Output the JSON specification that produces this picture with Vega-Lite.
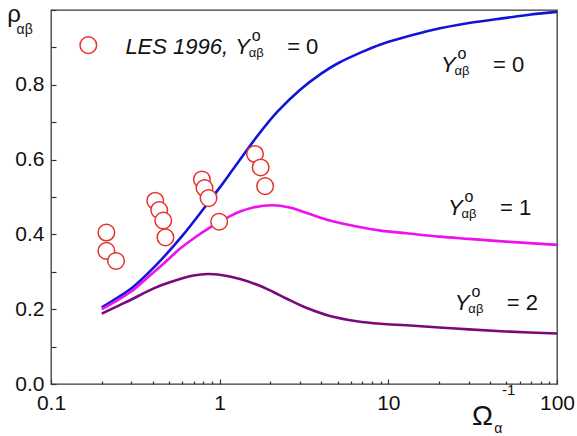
{
  "$schema": "https://vega.github.io/schema/vega-lite/v6.json",
  "width": 506,
  "height": 374,
  "autosize": "none",
  "padding": {"left": 51, "top": 10, "right": 20, "bottom": 52},
  "background": "white",
  "config": {
    "view": {"stroke": "#3a3a3a", "strokeWidth": 1.3},
    "font": "Liberation Sans",
    "text": {"font": "Liberation Sans", "color": "#111111"}
  },
  "datasets": {
    "curves": [
      {"x": 0.2, "y": 0.205, "c": "Y0"}, {"x": 0.25, "y": 0.232, "c": "Y0"}, {"x": 0.3, "y": 0.256, "c": "Y0"},
      {"x": 0.42, "y": 0.318, "c": "Y0"}, {"x": 0.6, "y": 0.396, "c": "Y0"}, {"x": 0.82, "y": 0.474, "c": "Y0"},
      {"x": 1.0, "y": 0.525, "c": "Y0"}, {"x": 1.2, "y": 0.574, "c": "Y0"}, {"x": 1.66, "y": 0.661, "c": "Y0"},
      {"x": 2.2, "y": 0.728, "c": "Y0"}, {"x": 3.0, "y": 0.787, "c": "Y0"}, {"x": 4.0, "y": 0.83, "c": "Y0"},
      {"x": 5.0, "y": 0.857, "c": "Y0"}, {"x": 7.0, "y": 0.888, "c": "Y0"}, {"x": 9.0, "y": 0.908, "c": "Y0"},
      {"x": 12.0, "y": 0.925, "c": "Y0"}, {"x": 18.5, "y": 0.947, "c": "Y0"}, {"x": 30.0, "y": 0.965, "c": "Y0"},
      {"x": 50.0, "y": 0.979, "c": "Y0"}, {"x": 70.0, "y": 0.988, "c": "Y0"}, {"x": 100.0, "y": 0.995, "c": "Y0"},

      {"x": 0.2, "y": 0.2, "c": "Y1"}, {"x": 0.25, "y": 0.225, "c": "Y1"}, {"x": 0.3, "y": 0.248, "c": "Y1"},
      {"x": 0.37, "y": 0.283, "c": "Y1"}, {"x": 0.45, "y": 0.316, "c": "Y1"}, {"x": 0.583, "y": 0.362, "c": "Y1"},
      {"x": 0.7, "y": 0.389, "c": "Y1"}, {"x": 0.859, "y": 0.416, "c": "Y1"}, {"x": 1.0, "y": 0.434, "c": "Y1"},
      {"x": 1.154, "y": 0.449, "c": "Y1"}, {"x": 1.32, "y": 0.461, "c": "Y1"}, {"x": 1.58, "y": 0.472, "c": "Y1"},
      {"x": 2.04, "y": 0.478, "c": "Y1"}, {"x": 2.6, "y": 0.472, "c": "Y1"}, {"x": 3.29, "y": 0.457, "c": "Y1"},
      {"x": 4.5, "y": 0.437, "c": "Y1"}, {"x": 6.5, "y": 0.421, "c": "Y1"}, {"x": 9.0, "y": 0.41, "c": "Y1"},
      {"x": 12.8, "y": 0.403, "c": "Y1"}, {"x": 20.0, "y": 0.394, "c": "Y1"}, {"x": 30.0, "y": 0.388, "c": "Y1"},
      {"x": 52.6, "y": 0.38, "c": "Y1"}, {"x": 100.0, "y": 0.372, "c": "Y1"},

      {"x": 0.2, "y": 0.188, "c": "Y2"}, {"x": 0.25, "y": 0.209, "c": "Y2"}, {"x": 0.3, "y": 0.226, "c": "Y2"},
      {"x": 0.37, "y": 0.247, "c": "Y2"}, {"x": 0.45, "y": 0.264, "c": "Y2"}, {"x": 0.583, "y": 0.281, "c": "Y2"},
      {"x": 0.7, "y": 0.29, "c": "Y2"}, {"x": 0.85, "y": 0.294, "c": "Y2"}, {"x": 1.0, "y": 0.292, "c": "Y2"},
      {"x": 1.32, "y": 0.281, "c": "Y2"}, {"x": 1.7, "y": 0.264, "c": "Y2"}, {"x": 2.08, "y": 0.246, "c": "Y2"},
      {"x": 2.5, "y": 0.228, "c": "Y2"}, {"x": 3.29, "y": 0.203, "c": "Y2"}, {"x": 4.5, "y": 0.182, "c": "Y2"},
      {"x": 6.5, "y": 0.168, "c": "Y2"}, {"x": 9.0, "y": 0.161, "c": "Y2"}, {"x": 12.8, "y": 0.157, "c": "Y2"},
      {"x": 20.0, "y": 0.151, "c": "Y2"}, {"x": 30.0, "y": 0.146, "c": "Y2"}, {"x": 52.6, "y": 0.14, "c": "Y2"},
      {"x": 100.0, "y": 0.135, "c": "Y2"}
    ],
    "les": [
      {"x": 0.213, "y": 0.405}, {"x": 0.213, "y": 0.356}, {"x": 0.243, "y": 0.329},
      {"x": 0.415, "y": 0.49}, {"x": 0.438, "y": 0.465}, {"x": 0.463, "y": 0.437}, {"x": 0.477, "y": 0.392},
      {"x": 0.785, "y": 0.547}, {"x": 0.813, "y": 0.524}, {"x": 0.859, "y": 0.497}, {"x": 0.993, "y": 0.434},
      {"x": 1.62, "y": 0.615}, {"x": 1.75, "y": 0.579}, {"x": 1.86, "y": 0.529}
    ],
    "key": [{"x": 0.1664, "y": 0.906}],
    "keytext": [{"x": 1.235, "y": 0.882, "t": "LES 1996,"}],
    "ylab": [
      {"x": 20.52, "y": 0.834, "eq": "= 0"},
      {"x": 22.58, "y": 0.452, "eq": "= 1"},
      {"x": 24.8, "y": 0.198, "eq": "= 2"},
      {"x": 1.235, "y": 0.882, "eq": "= 0"}
    ],
    "bigt": [{"x": 0.0551, "y": 0.968, "t": "ρ"}],
    "omega": [{"x": 31.3, "y": -0.11, "t": "Ω"}],
    "subs": [{"x": 0.0625, "y": 0.936, "t": "αβ"}, {"x": 42.4, "y": -0.13, "t": "α"}],
    "sups": [{"x": 47.2, "y": -0.03, "t": "-1"}]
  },
  "encoding": {
    "x": {
      "field": "x", "type": "quantitative",
      "scale": {"type": "log", "domain": [0.1, 100], "nice": false},
      "axis": {
        "title": null, "grid": false, "domain": false,
        "values": [0.1, 0.2, 0.3, 0.4, 0.5, 0.6, 0.7, 0.8, 0.9, 1, 2, 3, 4, 5, 6, 7, 8, 9, 10, 20, 30, 40, 50, 60, 70, 80, 90, 100],
        "tickColor": "#333333", "tickWidth": 1.2,
        "tickSize": {"condition": {"test": "indexof([0.1, 1, 10, 100], datum.value) >= 0", "value": -5}, "value": -3},
        "labelExpr": "indexof([0.1, 1, 10, 100], datum.value) >= 0 ? datum.value + '' : ''",
        "labelPadding": 13, "labelFontSize": 21, "labelColor": "#111111",
        "labelFlush": false, "labelOverlap": false, "labelFont": "Liberation Sans"
      }
    },
    "y": {
      "field": "y", "type": "quantitative",
      "scale": {"domain": [0, 1], "nice": false},
      "axis": {
        "title": null, "grid": false, "domain": false,
        "values": [0, 0.1, 0.2, 0.3, 0.4, 0.5, 0.6, 0.7, 0.8, 0.9, 1.0],
        "tickColor": "#333333", "tickWidth": 1.2, "tickSize": -5,
        "labelExpr": "round(datum.value * 10) % 2 == 0 && datum.value < 0.95 ? format(datum.value, '.1f') : ''",
        "labelPadding": 12, "labelFontSize": 21, "labelColor": "#111111",
        "labelFlush": false, "labelOverlap": false, "labelFont": "Liberation Sans"
      }
    }
  },
  "layer": [
    {
      "data": {"name": "curves"},
      "mark": {"type": "line", "interpolate": "catmull-rom", "strokeWidth": 2.6},
      "encoding": {
        "color": {"field": "c", "type": "nominal", "legend": null,
          "scale": {"domain": ["Y0", "Y1", "Y2"], "range": ["#1414d8", "#ee10ee", "#7a0a7a"]}}
      }
    },
    {
      "data": {"name": "les"},
      "mark": {"type": "point", "shape": "circle", "size": 275, "filled": true, "fill": "white", "stroke": "#e5332a", "strokeWidth": 1.5, "opacity": 1}
    },
    {
      "data": {"name": "key"},
      "mark": {"type": "point", "shape": "circle", "size": 275, "filled": true, "fill": "white", "stroke": "#e5332a", "strokeWidth": 1.5, "opacity": 1}
    },
    {
      "data": {"name": "keytext"},
      "mark": {"type": "text", "align": "right", "baseline": "alphabetic", "dx": -7, "fontSize": 22, "fontStyle": "italic"},
      "encoding": {"text": {"field": "t"}}
    },
    {
      "data": {"name": "ylab"},
      "mark": {"type": "text", "text": "Y", "align": "left", "baseline": "alphabetic", "fontSize": 22, "fontStyle": "italic"}
    },
    {
      "data": {"name": "ylab"},
      "mark": {"type": "text", "text": "o", "align": "center", "baseline": "alphabetic", "dx": 21, "dy": -13, "fontSize": 16}
    },
    {
      "data": {"name": "ylab"},
      "mark": {"type": "text", "text": "αβ", "align": "center", "baseline": "alphabetic", "dx": 21, "dy": 3, "fontSize": 13}
    },
    {
      "data": {"name": "ylab"},
      "mark": {"type": "text", "align": "left", "baseline": "alphabetic", "dx": 52, "fontSize": 22},
      "encoding": {"text": {"field": "eq"}}
    },
    {
      "data": {"name": "bigt"},
      "mark": {"type": "text", "align": "left", "baseline": "alphabetic", "fontSize": 24},
      "encoding": {"text": {"field": "t"}}
    },
    {
      "data": {"name": "omega"},
      "mark": {"type": "text", "align": "left", "baseline": "alphabetic", "fontSize": 28},
      "encoding": {"text": {"field": "t"}}
    },
    {
      "data": {"name": "subs"},
      "mark": {"type": "text", "align": "left", "baseline": "alphabetic", "fontSize": 14},
      "encoding": {"text": {"field": "t"}}
    },
    {
      "data": {"name": "sups"},
      "mark": {"type": "text", "align": "left", "baseline": "alphabetic", "fontSize": 15},
      "encoding": {"text": {"field": "t"}}
    }
  ]
}
